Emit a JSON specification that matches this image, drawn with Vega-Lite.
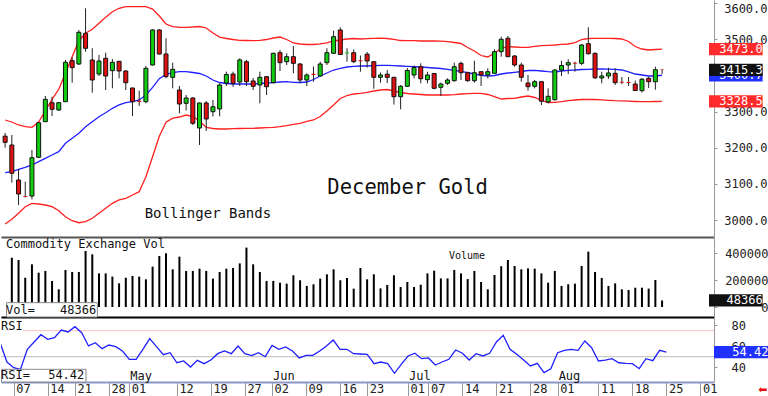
{
"$schema":"https://vega.github.io/schema/vega-lite/v6.json",
"padding":0,
"background":"white",
"spacing":0,
"bounds":"flush",
"config":{"view":{"stroke":null},"font":"DejaVu Sans Mono","text":{"font":"DejaVu Sans Mono"},"axis":{"labelOverlap":false,"labelBound":false,"labelFlush":false}},
"datasets":{"d":[
{"i":-1,"o":3232,"h":3241,"l":3200,"c":3215,"u":3276.8,"m":3130.9,"b":2988.9,"r":63.4},
{"i":0,"o":3207.6,"h":3235.3,"l":3103.3,"c":3129.3,"u":3271.3,"m":3133.7,"b":3001.9,"v":365000,"r":44.9},
{"i":1,"o":3110.7,"h":3140.3,"l":3041.5,"c":3072.0,"u":3263.0,"m":3140.3,"b":3018.5,"v":348000,"r":39.4},
{"i":2,"o":3066.5,"h":3106.0,"l":3062.3,"c":3064.0,"u":3258.3,"m":3145.9,"b":3036.8,"v":217000,"r":37.9},
{"i":3,"o":3066.4,"h":3193.8,"l":3057.3,"c":3172.4,"u":3256.6,"m":3152.3,"b":3046.2,"v":316000,"r":57.1},
{"i":4,"o":3173.6,"h":3271.3,"l":3171.6,"c":3269.3,"u":3271.3,"m":3161.4,"b":3044.3,"v":254000,"r":64.1},
{"i":5,"o":3272.1,"h":3343.2,"l":3271.3,"c":3334.1,"u":3302.5,"m":3170.8,"b":3041.5,"v":267000,"r":71.1},
{"i":6,"o":3324.7,"h":3341.3,"l":3287.9,"c":3306.4,"u":3334.1,"m":3179.9,"b":3036.8,"v":193000,"r":66.7},
{"i":7,"o":3304.5,"h":3326.6,"l":3301.7,"c":3324.7,"u":3361.8,"m":3189.1,"b":3025.8,"v":131000,"r":68.2},
{"i":8,"o":3327.5,"h":3443.0,"l":3326.6,"c":3436.5,"u":3406.1,"m":3212.3,"b":3009.1,"v":274000,"r":75.6},
{"i":9,"o":3441.0,"h":3450.4,"l":3380.0,"c":3421.6,"u":3452.0,"m":3226.1,"b":2998.1,"v":259000,"r":73.7},
{"i":10,"o":3431.8,"h":3525.9,"l":3429.0,"c":3519.6,"u":3496.3,"m":3240.0,"b":2992.5,"v":259000,"r":78.8},
{"i":11,"o":3516.8,"h":3586.0,"l":3465.9,"c":3475.3,"u":3516.8,"m":3258.3,"b":2995.3,"v":415000,"r":73.0},
{"i":12,"o":3442.9,"h":3475.3,"l":3352.4,"c":3387.5,"u":3527.9,"m":3272.1,"b":3004.7,"v":390000,"r":60.3},
{"i":13,"o":3404.1,"h":3456.7,"l":3398.6,"c":3440.1,"u":3544.5,"m":3285.9,"b":3018.5,"v":249000,"r":63.4},
{"i":14,"o":3447.6,"h":3463.1,"l":3359.8,"c":3398.6,"u":3561.1,"m":3297.0,"b":3032.4,"v":249000,"r":57.7},
{"i":15,"o":3413.3,"h":3445.6,"l":3364.5,"c":3436.5,"u":3576.6,"m":3309.2,"b":3046.2,"v":225000,"r":61.2},
{"i":16,"o":3439.3,"h":3440.1,"l":3392.2,"c":3412.4,"u":3586.0,"m":3318.4,"b":3055.4,"v":175000,"r":59.6},
{"i":17,"o":3412.4,"h":3415.2,"l":3359.8,"c":3380.0,"u":3590.4,"m":3324.7,"b":3060.1,"v":217000,"r":55.5},
{"i":18,"o":3365.4,"h":3366.2,"l":3287.9,"c":3327.5,"u":3590.4,"m":3327.5,"b":3069.2,"v":230000,"r":47.5},
{"i":19,"o":3330.2,"h":3357.9,"l":3315.6,"c":3326.6,"u":3590.4,"m":3332.2,"b":3078.4,"v":225000,"r":47.5},
{"i":20,"o":3327.5,"h":3426.3,"l":3323.0,"c":3419.9,"u":3590.4,"m":3346.0,"b":3120.0,"v":205000,"r":57.1},
{"i":21,"o":3429.0,"h":3527.9,"l":3427.7,"c":3526.0,"u":3584.0,"m":3367.3,"b":3175.0,"v":299000,"r":67.3},
{"i":22,"o":3526.0,"h":3527.9,"l":3458.1,"c":3459.5,"u":3564.7,"m":3391.2,"b":3232.0,"v":378000,"r":59.6},
{"i":23,"o":3459.5,"h":3503.0,"l":3392.2,"c":3396.7,"u":3542.5,"m":3403.3,"b":3271.0,"v":398000,"r":51.9},
{"i":24,"o":3395.0,"h":3435.4,"l":3364.5,"c":3417.1,"u":3535.0,"m":3407.7,"b":3282.0,"v":279000,"r":53.8},
{"i":25,"o":3359.8,"h":3370.9,"l":3295.3,"c":3321.1,"u":3533.4,"m":3410.5,"b":3285.1,"v":373000,"r":44.2},
{"i":26,"o":3323.0,"h":3346.0,"l":3303.1,"c":3337.7,"u":3533.4,"m":3410.5,"b":3290.6,"v":267000,"r":45.9},
{"i":27,"o":3337.7,"h":3339.6,"l":3263.0,"c":3267.7,"u":3534.2,"m":3408.3,"b":3285.9,"v":267000,"r":40.1},
{"i":28,"o":3254.7,"h":3325.2,"l":3207.6,"c":3323.9,"u":3535.6,"m":3405.5,"b":3274.0,"v":284000,"r":46.5},
{"i":29,"o":3323.9,"h":3329.4,"l":3246.4,"c":3279.6,"u":3531.5,"m":3398.6,"b":3256.1,"v":267000,"r":43.3},
{"i":30,"o":3299.8,"h":3332.2,"l":3286.5,"c":3313.6,"u":3517.6,"m":3387.5,"b":3253.3,"v":210000,"r":46.8},
{"i":31,"o":3307.3,"h":3378.4,"l":3287.0,"c":3373.7,"u":3506.5,"m":3380.6,"b":3251.9,"v":259000,"r":52.9},
{"i":32,"o":3379.2,"h":3410.5,"l":3370.9,"c":3402.7,"u":3502.4,"m":3377.8,"b":3251.9,"v":284000,"r":55.5},
{"i":33,"o":3404.1,"h":3410.5,"l":3368.2,"c":3378.4,"u":3499.6,"m":3376.4,"b":3252.7,"v":289000,"r":52.9},
{"i":34,"o":3382.0,"h":3447.6,"l":3370.9,"c":3443.0,"u":3497.4,"m":3376.4,"b":3253.3,"v":323000,"r":60.3},
{"i":35,"o":3438.2,"h":3443.0,"l":3370.9,"c":3382.8,"u":3496.8,"m":3376.4,"b":3253.8,"v":440000,"r":52.9},
{"i":36,"o":3384.8,"h":3393.1,"l":3359.8,"c":3370.1,"u":3496.3,"m":3376.4,"b":3253.8,"v":316000,"r":51.0},
{"i":37,"o":3373.7,"h":3410.5,"l":3323.0,"c":3395.0,"u":3497.4,"m":3377.8,"b":3254.7,"v":259000,"r":53.8},
{"i":38,"o":3396.7,"h":3398.6,"l":3346.0,"c":3369.0,"u":3499.6,"m":3379.2,"b":3255.5,"v":193000,"r":50.0},
{"i":39,"o":3380.0,"h":3463.1,"l":3378.4,"c":3461.4,"u":3503.8,"m":3380.0,"b":3256.6,"v":193000,"r":60.9},
{"i":40,"o":3463.1,"h":3470.6,"l":3412.4,"c":3435.4,"u":3506.5,"m":3382.0,"b":3258.3,"v":180000,"r":57.1},
{"i":41,"o":3438.2,"h":3461.4,"l":3429.0,"c":3452.0,"u":3499.6,"m":3382.8,"b":3261.0,"v":173000,"r":59.3},
{"i":42,"o":3452.0,"h":3481.6,"l":3406.1,"c":3433.7,"u":3490.0,"m":3381.1,"b":3264.4,"v":235000,"r":55.5},
{"i":43,"o":3431.8,"h":3434.6,"l":3378.4,"c":3387.5,"u":3487.2,"m":3380.6,"b":3267.7,"v":198000,"r":48.8},
{"i":44,"o":3387.5,"h":3406.1,"l":3370.9,"c":3401.4,"u":3485.8,"m":3382.0,"b":3272.7,"v":156000,"r":51.3},
{"i":45,"o":3405.0,"h":3424.3,"l":3382.8,"c":3401.4,"u":3485.8,"m":3388.9,"b":3276.8,"v":168000,"r":51.3},
{"i":46,"o":3398.6,"h":3438.2,"l":3396.7,"c":3431.8,"u":3487.7,"m":3398.6,"b":3286.5,"v":210000,"r":55.5},
{"i":47,"o":3435.4,"h":3475.3,"l":3429.0,"c":3463.1,"u":3490.5,"m":3406.9,"b":3301.7,"v":242000,"r":60.3},
{"i":48,"o":3461.4,"h":3524.0,"l":3460.9,"c":3507.4,"u":3495.5,"m":3415.2,"b":3318.4,"v":279000,"r":66.0},
{"i":49,"o":3525.9,"h":3533.4,"l":3456.7,"c":3458.1,"u":3498.2,"m":3419.9,"b":3336.3,"v":198000,"r":57.1},
{"i":50,"o":3461.4,"h":3475.3,"l":3438.2,"c":3464.2,"u":3501.0,"m":3423.5,"b":3344.6,"v":215000,"r":57.1},
{"i":51,"o":3463.1,"h":3472.5,"l":3434.6,"c":3438.2,"u":3502.4,"m":3425.5,"b":3348.8,"v":136000,"r":52.9},
{"i":52,"o":3442.1,"h":3455.3,"l":3410.5,"c":3439.3,"u":3501.0,"m":3426.3,"b":3350.7,"v":289000,"r":52.6},
{"i":53,"o":3459.0,"h":3465.0,"l":3422.1,"c":3440.1,"u":3501.8,"m":3426.3,"b":3353.5,"v":205000,"r":52.3},
{"i":54,"o":3438.2,"h":3438.7,"l":3363.2,"c":3395.0,"u":3503.0,"m":3427.1,"b":3357.1,"v":242000,"r":43.3},
{"i":55,"o":3395.0,"h":3408.3,"l":3380.0,"c":3401.4,"u":3503.2,"m":3428.2,"b":3359.8,"v":138000,"r":44.9},
{"i":56,"o":3403.6,"h":3415.2,"l":3379.2,"c":3395.0,"u":3502.4,"m":3428.2,"b":3361.2,"v":163000,"r":43.3},
{"i":57,"o":3395.0,"h":3395.8,"l":3319.7,"c":3341.3,"u":3500.2,"m":3427.1,"b":3357.1,"v":235000,"r":34.1},
{"i":58,"o":3341.3,"h":3373.7,"l":3306.4,"c":3370.1,"u":3496.8,"m":3426.3,"b":3352.9,"v":148000,"r":42.7},
{"i":59,"o":3370.1,"h":3420.7,"l":3368.2,"c":3413.8,"u":3496.3,"m":3425.5,"b":3350.2,"v":185000,"r":50.7},
{"i":60,"o":3401.4,"h":3427.7,"l":3392.2,"c":3422.1,"u":3496.3,"m":3424.3,"b":3348.8,"v":148000,"r":53.3},
{"i":61,"o":3424.3,"h":3433.7,"l":3378.4,"c":3391.1,"u":3495.5,"m":3423.5,"b":3347.4,"v":165000,"r":48.1},
{"i":62,"o":3388.4,"h":3410.5,"l":3378.4,"c":3401.4,"u":3495.5,"m":3422.1,"b":3346.0,"v":249000,"r":48.8},
{"i":63,"o":3405.5,"h":3406.1,"l":3361.8,"c":3364.5,"u":3495.5,"m":3420.8,"b":3346.0,"v":269000,"r":42.0},
{"i":64,"o":3367.3,"h":3380.0,"l":3343.2,"c":3376.4,"u":3495.0,"m":3419.4,"b":3346.0,"v":212000,"r":44.9},
{"i":65,"o":3378.4,"h":3392.2,"l":3373.7,"c":3387.5,"u":3493.5,"m":3417.1,"b":3346.0,"v":212000,"r":47.5},
{"i":66,"o":3385.6,"h":3435.4,"l":3382.8,"c":3424.3,"u":3491.3,"m":3414.4,"b":3346.8,"v":274000,"r":56.4},
{"i":67,"o":3433.7,"h":3438.2,"l":3387.5,"c":3407.7,"u":3488.6,"m":3411.1,"b":3348.8,"v":249000,"r":53.3},
{"i":68,"o":3407.7,"h":3410.5,"l":3382.8,"c":3385.6,"u":3477.5,"m":3407.7,"b":3349.6,"v":207000,"r":46.8},
{"i":69,"o":3385.6,"h":3440.9,"l":3380.0,"c":3407.7,"u":3467.8,"m":3404.1,"b":3350.7,"v":267000,"r":52.9},
{"i":70,"o":3410.5,"h":3411.0,"l":3370.9,"c":3401.4,"u":3455.3,"m":3400.5,"b":3350.7,"v":185000,"r":50.7},
{"i":71,"o":3401.4,"h":3419.9,"l":3392.2,"c":3410.5,"u":3451.2,"m":3398.6,"b":3347.4,"v":131000,"r":53.3},
{"i":72,"o":3406.1,"h":3472.5,"l":3405.5,"c":3465.9,"u":3462.3,"m":3400.0,"b":3341.3,"v":237000,"r":64.1},
{"i":73,"o":3465.9,"h":3507.4,"l":3452.0,"c":3500.2,"u":3475.3,"m":3404.1,"b":3334.9,"v":302000,"r":70.5},
{"i":74,"o":3503.0,"h":3509.3,"l":3451.2,"c":3452.0,"u":3479.7,"m":3406.9,"b":3336.3,"v":348000,"r":57.1},
{"i":75,"o":3454.0,"h":3456.7,"l":3424.3,"c":3429.0,"u":3478.9,"m":3408.8,"b":3336.9,"v":304000,"r":52.3},
{"i":76,"o":3429.0,"h":3435.4,"l":3382.8,"c":3395.0,"u":3478.0,"m":3411.1,"b":3340.5,"v":279000,"r":46.8},
{"i":77,"o":3379.2,"h":3401.4,"l":3357.9,"c":3369.0,"u":3478.0,"m":3413.8,"b":3343.2,"v":286000,"r":41.1},
{"i":78,"o":3370.1,"h":3387.5,"l":3364.5,"c":3382.8,"u":3480.8,"m":3414.4,"b":3339.1,"v":284000,"r":43.6},
{"i":79,"o":3382.8,"h":3383.4,"l":3318.3,"c":3328.8,"u":3482.5,"m":3412.4,"b":3330.8,"v":249000,"r":34.7},
{"i":80,"o":3326.6,"h":3364.5,"l":3323.0,"c":3342.4,"u":3483.6,"m":3410.5,"b":3325.2,"v":180000,"r":38.5},
{"i":81,"o":3333.0,"h":3417.1,"l":3330.2,"c":3415.2,"u":3484.4,"m":3409.7,"b":3325.8,"v":267000,"r":53.8},
{"i":82,"o":3415.2,"h":3440.1,"l":3398.6,"c":3427.7,"u":3486.4,"m":3412.4,"b":3327.5,"v":156000,"r":56.1},
{"i":83,"o":3429.0,"h":3444.8,"l":3404.1,"c":3435.4,"u":3487.2,"m":3414.4,"b":3330.2,"v":168000,"r":57.1},
{"i":84,"o":3435.4,"h":3438.2,"l":3410.5,"c":3432.6,"u":3490.8,"m":3415.2,"b":3332.2,"v":173000,"r":56.1},
{"i":85,"o":3433.7,"h":3487.2,"l":3429.0,"c":3484.4,"u":3499.6,"m":3416.6,"b":3333.6,"v":304000,"r":65.1},
{"i":86,"o":3488.0,"h":3533.4,"l":3458.1,"c":3460.3,"u":3502.4,"m":3417.1,"b":3334.1,"v":410000,"r":58.6},
{"i":87,"o":3461.4,"h":3463.6,"l":3390.3,"c":3393.6,"u":3503.0,"m":3418.0,"b":3333.6,"v":259000,"r":45.9},
{"i":88,"o":3393.1,"h":3410.5,"l":3378.4,"c":3398.6,"u":3503.0,"m":3418.0,"b":3332.7,"v":215000,"r":46.8},
{"i":89,"o":3398.6,"h":3421.3,"l":3390.8,"c":3406.9,"u":3503.0,"m":3417.4,"b":3331.3,"v":156000,"r":48.1},
{"i":90,"o":3406.1,"h":3419.9,"l":3373.7,"c":3380.0,"u":3502.4,"m":3417.1,"b":3330.2,"v":175000,"r":44.2},
{"i":91,"o":3382.8,"h":3395.8,"l":3376.4,"c":3380.0,"u":3501.0,"m":3415.2,"b":3330.0,"v":131000,"r":43.6},
{"i":92,"o":3382.0,"h":3395.8,"l":3370.9,"c":3379.2,"u":3494.1,"m":3409.7,"b":3328.8,"v":126000,"r":43.3},
{"i":93,"o":3376.4,"h":3386.1,"l":3357.1,"c":3358.4,"u":3480.2,"m":3404.1,"b":3328.0,"v":143000,"r":38.5},
{"i":94,"o":3358.0,"h":3393.1,"l":3352.9,"c":3389.5,"u":3473.3,"m":3401.4,"b":3327.5,"v":143000,"r":48.1},
{"i":95,"o":3392.2,"h":3396.7,"l":3365.4,"c":3382.8,"u":3470.6,"m":3398.6,"b":3327.5,"v":136000,"r":46.2},
{"i":96,"o":3382.8,"h":3424.3,"l":3360.7,"c":3416.0,"u":3472.0,"m":3398.6,"b":3328.0,"v":200000,"r":56.1},
{"i":97,"o":3416.6,"h":3417.1,"l":3404.1,"c":3415.3,"u":3473.0,"m":3400.7,"b":3328.5,"v":48366,"r":54.42}
]},
"vconcat":[
{
"width":713,"height":237,
"layer":[
{"data":{"name":"d"},"mark":{"type":"line","color":"#ff2020","strokeWidth":1.3,"clip":true},
 "encoding":{
 "x":{"field":"i","type":"quantitative","scale":{"domain":[-0.87,104],"nice":false,"zero":false},"axis":{"title":null,"labels":false,"ticks":false,"grid":false,"domainColor":"#555555","domainWidth":2}},
 "y":{"field":"u","type":"quantitative","scale":{"domain":[2952.95,3608.96],"nice":false,"zero":false},
 "axis":{"orient":"right","title":null,"values":[3000,3100,3200,3300,3500,3600],"tickCount":100,"format":".1f","grid":false,"labelOverlap":false,"tickSize":3,"tickColor":"#999999","domainColor":"#999999","labelFont":"DejaVu Sans Mono","labelFontSize":12,"labelColor":"#222222","labelAlign":"left","labelPadding":6.7,"labelBaseline":{"condition":{"test":"datum.value >= 3600","value":"top"},"value":"middle"}}}}},
{"data":{"name":"d"},"mark":{"type":"line","color":"#ff2020","strokeWidth":1.3,"clip":true},"encoding":{"x":{"field":"i","type":"quantitative"},"y":{"field":"b","type":"quantitative"}}},
{"data":{"name":"d"},"mark":{"type":"line","color":"#2020ff","strokeWidth":1.3,"clip":true},"encoding":{"x":{"field":"i","type":"quantitative"},"y":{"field":"m","type":"quantitative"}}},
{"data":{"name":"d"},"mark":{"type":"rule","color":"#222222","strokeWidth":1,"clip":true},"encoding":{"x":{"field":"i","type":"quantitative"},"y":{"field":"l","type":"quantitative"},"y2":{"field":"h"}}},
{"data":{"name":"d"},"mark":{"type":"bar","width":4,"stroke":"#111111","strokeWidth":1,"clip":true},
 "encoding":{"x":{"field":"i","type":"quantitative"},"y":{"field":"o","type":"quantitative"},"y2":{"field":"c"},
 "fill":{"condition":{"test":"datum.c >= datum.o","value":"#10cc10"},"value":"#e01010"},
 "strokeOpacity":{"condition":{"test":"abs(datum.o - datum.c) < 4","value":0},"value":1}}},
{"data":{"values":[{}]},"mark":{"type":"text","text":"December Gold","align":"left","baseline":"middle","fontSize":20.5,"color":"#111111"},
 "encoding":{"x":{"datum":47.07},"y":{"datum":3087.8}}},
{"data":{"values":[{}]},"mark":{"type":"text","text":"Bollinger Bands","align":"left","baseline":"middle","fontSize":14,"color":"#111111"},
 "encoding":{"x":{"datum":19.82},"y":{"datum":3016.6}}},
{"data":{"values":[{}]},"mark":{"type":"rect","fill":"#2030ff"},
 "encoding":{"x":{"datum":104},"x2":{"datum":112},"y":{"datum":3417.7},"y2":{"datum":3383.7}}},
{"data":{"values":[{}]},"mark":{"type":"text","text":"3400.7","align":"right","baseline":"middle","fontSize":12,"color":"white"},
 "encoding":{"x":{"datum":112},"y":{"datum":3400.7}}},
{"data":{"values":[{}]},"mark":{"type":"rect","fill":"#111111"},
 "encoding":{"x":{"datum":104},"x2":{"datum":112},"y":{"datum":3432.3},"y2":{"datum":3398.3}}},
{"data":{"values":[{}]},"mark":{"type":"text","text":"3415.3","align":"right","baseline":"middle","fontSize":12,"color":"white"},
 "encoding":{"x":{"datum":112},"y":{"datum":3415.3}}},
{"data":{"values":[{}]},"mark":{"type":"rect","fill":"#ff2a2a"},
 "encoding":{"x":{"datum":104},"x2":{"datum":112},"y":{"datum":3490},"y2":{"datum":3456}}},
{"data":{"values":[{}]},"mark":{"type":"text","text":"3473.0","align":"right","baseline":"middle","fontSize":12,"color":"white"},
 "encoding":{"x":{"datum":112},"y":{"datum":3473.0}}},
{"data":{"values":[{}]},"mark":{"type":"rect","fill":"#ff2a2a"},
 "encoding":{"x":{"datum":104},"x2":{"datum":112},"y":{"datum":3345.5},"y2":{"datum":3311.5}}},
{"data":{"values":[{}]},"mark":{"type":"text","text":"3328.5","align":"right","baseline":"middle","fontSize":12,"color":"white"},
 "encoding":{"x":{"datum":112},"y":{"datum":3328.5}}}
]
},
{
"width":713,"height":80,
"layer":[
{"data":{"name":"d"},"mark":{"type":"bar","width":2,"color":"#000000","clip":true},
 "encoding":{
 "x":{"field":"i","type":"quantitative","scale":{"domain":[-0.87,104],"nice":false,"zero":false},"axis":{"title":null,"labels":false,"ticks":false,"grid":false,"domainColor":"#000000","domainWidth":2}},
 "y":{"field":"v","type":"quantitative","scale":{"domain":[-74074,518519],"nice":false,"zero":false},
 "axis":{"orient":"right","title":null,"values":[0,200000,400000],"tickCount":100,"format":"d","grid":false,"labelOverlap":false,"tickSize":3,"tickColor":"#999999","domainColor":"#999999","labelFont":"DejaVu Sans Mono","labelFontSize":12,"labelColor":"#222222","labelAlign":"right","labelPadding":51}},
 "y2":{"datum":0}}},
{"data":{"values":[{}]},"mark":{"type":"text","text":"Commodity Exchange Vol","align":"left","baseline":"middle","fontSize":12,"color":"#111111"},
 "encoding":{"x":{"datum":-0.87},"y":{"datum":464000}}},
{"data":{"values":[{}]},"mark":{"type":"text","text":"Volume","align":"left","baseline":"middle","fontSize":10,"color":"#111111"},
 "encoding":{"x":{"datum":65.2},"y":{"datum":381000}}},
{"data":{"values":[{}]},"mark":{"type":"rect","fill":"white","stroke":"#888888","strokeWidth":1},
 "encoding":{"x":{"datum":-0.79},"x2":{"datum":12.76},"y":{"datum":31852},"y2":{"datum":-74074}}},
{"data":{"values":[{}]},"mark":{"type":"text","text":"Vol=","align":"left","baseline":"middle","fontSize":12,"color":"#111111"},
 "encoding":{"x":{"datum":-0.87},"y":{"datum":-22222}}},
{"data":{"values":[{}]},"mark":{"type":"text","text":"48366","align":"right","baseline":"middle","fontSize":12,"color":"#111111"},
 "encoding":{"x":{"datum":12.59},"y":{"datum":-22222}}},
{"data":{"values":[{}]},"mark":{"type":"rect","fill":"#111111"},
 "encoding":{"x":{"datum":104},"x2":{"datum":112},"y":{"datum":93922},"y2":{"datum":2810}}},
{"data":{"values":[{}]},"mark":{"type":"text","text":"48366","align":"right","baseline":"middle","fontSize":12,"color":"white"},
 "encoding":{"x":{"datum":112},"y":{"datum":48366}}}
]
},
{
"width":713,"height":65,
"layer":[
{"data":{"values":[{}]},"mark":{"type":"rule","color":"#ffc0c0","strokeWidth":1},
 "encoding":{"x":{"datum":2.4},"x2":{"datum":104},"y":{"datum":75}}},
{"data":{"values":[{}]},"mark":{"type":"rule","color":"#bbbbbb","strokeWidth":1},
 "encoding":{"x":{"datum":-0.87},"x2":{"datum":104},"y":{"datum":50}}},
{"data":{"name":"d"},"mark":{"type":"line","color":"#2020ff","strokeWidth":1.3,"clip":true},
 "encoding":{
 "x":{"field":"i","type":"quantitative","scale":{"domain":[-0.87,104],"nice":false,"zero":false},
 "axis":{"title":null,"grid":false,"values":[1,6,10,15,18,25,30,35,39,44,49,53,59,62,67,72,77,81,87,92,97,102],"tickCount":100,
 "labelExpr":"['07','14','21','28','01','12','19','27','02','09','16','23','01','07','14','21','28','01','11','18','25','01'][indexof([1,6,10,15,18,25,30,35,39,44,49,53,59,62,67,72,77,81,87,92,97,102], datum.value)]",
 "tickSize":14,"tickColor":"#999999","tickWidth":1,"domainColor":"#8a96c8","domainWidth":2,"labelAlign":"left","labelBaseline":"top","labelPadding":-12.5,"labelOffset":2,"labelFont":"DejaVu Sans Mono","labelFontSize":12,"labelColor":"#222222","labelFlush":false,"labelOverlap":false,"labelBound":false}},
 "y":{"field":"r","type":"quantitative","scale":{"domain":[25.73,88.08],"nice":false,"zero":false},
 "axis":{"orient":"right","title":null,"values":[40,60,80],"tickCount":100,"format":"d","grid":false,"labelOverlap":false,"tickSize":3,"tickColor":"#999999","domainColor":"#999999","labelFont":"DejaVu Sans Mono","labelFontSize":12,"labelColor":"#222222","labelAlign":"left","labelPadding":14}}}},
{"data":{"values":[{}]},"mark":{"type":"text","text":"RSI","align":"left","baseline":"middle","fontSize":12,"color":"#111111"},
 "encoding":{"x":{"datum":-0.87},"y":{"datum":79.9}}},
{"data":{"values":[{"i":18,"t":"May"},{"i":39,"t":"Jun"},{"i":59,"t":"Jul"},{"i":81,"t":"Aug"}]},
 "mark":{"type":"text","align":"left","baseline":"alphabetic","dx":1,"fontSize":12,"color":"#111111"},
 "encoding":{"x":{"field":"i","type":"quantitative"},"text":{"field":"t"},"y":{"datum":28.1}}},
{"data":{"values":[{}]},"mark":{"type":"rect","fill":"white","stroke":"#888888","strokeWidth":1},
 "encoding":{"x":{"datum":-0.79},"x2":{"datum":11.63},"y":{"datum":37.9},"y2":{"datum":25.73}}},
{"data":{"values":[{}]},"mark":{"type":"text","text":"RSI=","align":"left","baseline":"middle","fontSize":12,"color":"#111111"},
 "encoding":{"x":{"datum":-0.87},"y":{"datum":31.97}}},
{"data":{"values":[{}]},"mark":{"type":"text","text":"54.42","align":"right","baseline":"middle","fontSize":12,"color":"#111111"},
 "encoding":{"x":{"datum":11.38},"y":{"datum":31.97}}},
{"data":{"values":[{}]},"mark":{"type":"rect","fill":"#2030ff"},
 "encoding":{"x":{"datum":104},"x2":{"datum":112},"y":{"datum":60.32},"y2":{"datum":48.52}}},
{"data":{"values":[{}]},"mark":{"type":"text","text":"54.42","align":"right","baseline":"middle","fontSize":12,"color":"white"},
 "encoding":{"x":{"datum":112},"y":{"datum":54.42}}},
{"data":{"values":[{}]},"mark":{"type":"text","text":"⬅","align":"center","baseline":"middle","fontSize":11,"font":"DejaVu Sans","color":"#ee1111"},
 "encoding":{"x":{"datum":111.2},"y":{"datum":18.06}}}
]
}
]
}
